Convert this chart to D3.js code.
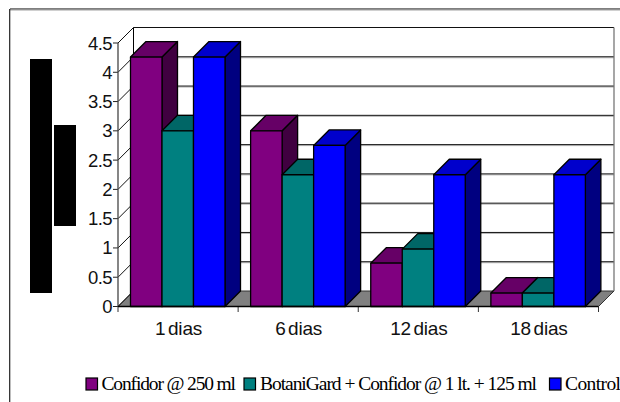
<!DOCTYPE html>
<html><head><meta charset="utf-8">
<script src="https://cdn.jsdelivr.net/npm/d3@7/dist/d3.min.js"></script>
<style>html,body{margin:0;padding:0;background:#fff}svg{display:block}</style></head>
<body><svg id="c" width="620" height="402"></svg>
<script>
const categories = ["1 dias","6 dias","12 dias","18 dias"];
const seriesNames = ["Confidor @ 250 ml","BotaniGard + Confidor @ 1 lt. + 125 ml","Control"];
const confidor = [4.26,3.0,0.74,0.23];
const botanigard = [3.0,2.25,0.98,0.23];
const control = [4.26,2.75,2.25,2.25];
const yTicks = [0,0.5,1,1.5,2,2.5,3,3.5,4,4.5];
const seriesValues = [confidor,botanigard,control];
const frontColors = ["#800080","#008080","#0000ff"];
const topColors = ["#660066","#006666","#0000cc"];
const sideColors = ["#400040","#004040","#000080"];

const svg = d3.select("#c");
const dx = 15.5, dy = -15.5;
const x = d3.scaleBand().domain(categories).range([118,598.5]);
const inner = d3.scaleBand().domain(d3.range(3)).range([12.5,107]);
const y = d3.scaleLinear().domain([0,4.5]).range([306.5,43]);
const line = (x1,y1,x2,y2,c="#000",w=1)=>svg.append("line").attr("x1",x1).attr("y1",y1).attr("x2",x2).attr("y2",y2).attr("stroke",c).attr("stroke-width",w);
const poly = (pts,f)=>svg.append("polygon").attr("points",pts.map(p=>p.join(",")).join(" ")).attr("fill",f).attr("stroke","#000").attr("stroke-width",1.3).attr("stroke-linejoin","round");

// chart frame (cropped on the right and the bottom)
line(10,9,620,9,"#000",1.2); line(10,10.2,620,10.2,"#bbb",1);
line(9.7,9,9.7,402,"#222",1.2);

// redaction blocks left of the axis
svg.append("rect").attr("x",30).attr("y",59).attr("width",22).attr("height",234).attr("fill","#000");
svg.append("rect").attr("x",54).attr("y",125).attr("width",22).attr("height",101).attr("fill","#000");

const [x0,x1] = x.range();
// floor
svg.append("polygon").attr("points",[[x0,y(0)],[x0+dx,y(0)+dy],[x1+dx,y(0)+dy],[x1,y(0)]].map(p=>p.join(",")).join(" ")).attr("fill","#808080").attr("stroke","#333").attr("stroke-width",1);
// walls and gridlines
yTicks.forEach(t=>{
  const yy=y(t);
  if(t>0 && t<4.5){ line(x0+dx,yy+dy+1,x1+dx,yy+dy+1,"#b4b4b4",1); }
  if(t>0){ line(x0+dx,yy+dy,x1+dx,yy+dy,"#111",1); }
  line(x0,yy,x0+dx,yy+dy,"#111",1);
  line(x0-5,yy,x0,yy,"#222",1);
});
line(x0+dx,y(4.5)+dy,x0+dx,y(0)+dy,"#000",1);
line(x1+dx,y(4.5)+dy,x1+dx,y(0)+dy,"#777",1.3);
line(x0,y(4.5),x0,y(0),"#444",1.3);

// x ticks
categories.concat(["end"]).forEach((c,i)=>{
  const xx=x0+i*x.step();
  line(xx,y(0),xx,y(0)+5.5,"#333",1);
});

// bars
categories.forEach((c,i)=>{
  seriesValues.forEach((vals,s)=>{
    const l=x(c)+inner(s), r=l+inner.step(), t=y(vals[i]), b=y(0);
    poly([[r,t],[r+dx,t+dy],[r+dx,b+dy],[r,b]],sideColors[s]);
    poly([[l,t],[l+dx,t+dy],[r+dx,t+dy],[r,t]],topColors[s]);
    poly([[l,t],[r,t],[r,b],[l,b]],frontColors[s]);
  });
});
line(x0,y(0),x1,y(0),"#000",1.4);

// y labels
const sans="'Liberation Sans',Arial,sans-serif", serif="'Liberation Serif','Times New Roman',serif";
yTicks.forEach(t=>{
  svg.append("text").attr("x",112).attr("y",y(t)+6.5).attr("text-anchor","end")
    .attr("font-family",sans).attr("font-size",18.5).attr("fill","#111").attr("letter-spacing",-0.6).text(t);
});
// x labels
categories.forEach(c=>{
  svg.append("text").attr("x",x(c)+x.bandwidth()/2+0.5).attr("y",335).attr("text-anchor","middle")
    .attr("font-family",sans).attr("font-size",19).attr("fill","#111").attr("word-spacing",-2.5).attr("letter-spacing",-0.2).text(c);
});
// legend
const swatchX=[86,244,549.5], textX=[101.5,260,565], textW=[134.5,277,56];
seriesNames.forEach((n,s)=>{
  svg.append("rect").attr("x",swatchX[s]).attr("y",378).attr("width",11.5).attr("height",12).attr("fill",frontColors[s]).attr("stroke","#000").attr("stroke-width",1.2);
  svg.append("text").attr("x",textX[s]).attr("y",390).attr("font-family",serif).attr("font-size",19.5).attr("fill","#000")
    .attr("textLength",textW[s]).attr("lengthAdjust","spacing").text(n);
});
</script></body></html>
